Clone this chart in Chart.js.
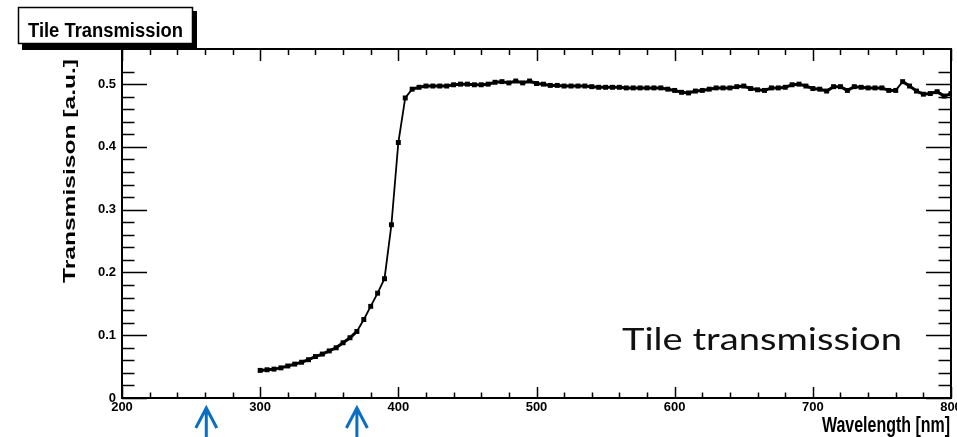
<!DOCTYPE html>
<html>
<head>
<meta charset="utf-8">
<title>Tile Transmission</title>
<script src="https://cdn.jsdelivr.net/npm/chart.js@4"></script>
<style>
  html, body { margin: 0; padding: 0; background: #fff; }
  #box { position: relative; width: 957px; height: 437px; }
</style>
</head>
<body>
<div id="box"><canvas id="chart"></canvas></div>
<script>
// ---------- DATA ----------
let wavelength = [
  300, 305, 310, 315, 320, 325, 330, 335, 340, 345,
  350, 355, 360, 365, 370, 375, 380, 385, 390, 395,
  400, 405, 410, 415, 420, 425, 430, 435, 440, 445,
  450, 455, 460, 465, 470, 475, 480, 485, 490, 495,
  500, 505, 510, 515, 520, 525, 530, 535, 540, 545,
  550, 555, 560, 565, 570, 575, 580, 585, 590, 595,
  600, 605, 610, 615, 620, 625, 630, 635, 640, 645,
  650, 655, 660, 665, 670, 675, 680, 685, 690, 695,
  700, 705, 710, 715, 720, 725, 730, 735, 740, 745,
  750, 755, 760, 765, 770, 775, 780, 785, 790, 795,
  800
];

let transmission = [
  0.044, 0.045, 0.046, 0.048, 0.051, 0.054, 0.057, 0.061, 0.066, 0.070,
  0.075, 0.080, 0.088, 0.096, 0.106, 0.125, 0.146, 0.167, 0.190, 0.276,
  0.407, 0.478, 0.492, 0.495, 0.497, 0.497, 0.497, 0.497, 0.499, 0.500,
  0.500, 0.499, 0.499, 0.500, 0.503, 0.504, 0.502, 0.505, 0.502, 0.505,
  0.501, 0.500, 0.498, 0.498, 0.497, 0.497, 0.497, 0.497, 0.496, 0.495,
  0.495, 0.495, 0.495, 0.494, 0.494, 0.494, 0.494, 0.494, 0.494, 0.492,
  0.490, 0.487, 0.486, 0.489, 0.490, 0.492, 0.494, 0.494, 0.494, 0.496,
  0.497, 0.493, 0.491, 0.490, 0.494, 0.494, 0.495, 0.499, 0.500, 0.497,
  0.493, 0.492, 0.489, 0.496, 0.496, 0.490, 0.496, 0.495, 0.494, 0.494,
  0.494, 0.490, 0.490, 0.504, 0.497, 0.489, 0.484, 0.485, 0.488, 0.481,
  0.485
];

// wavelengths marked with arrows under the axis
let arrowAt = [261, 370];

let xMin = 200, xMax = 800, xStep = 20, xMajor = 100;
let yMin = 0, yMax = 0.556, yStep = 0.02, yMajor = 0.1;

let titleText = "Tile Transmission";
let xTitle = "Wavelength [nm]";
let yTitle = "Transmisison [a.u.]";
let noteText = "Tile transmission";

// ---------- HELPERS ----------
function isMultiple(v, step) {
  let r = v / step;
  return Math.abs(r - Math.round(r)) < 1e-6;
}

// draw text squeezed/stretched into a box given by cap height and width
function boxText(ctx, text, font, x, baseline, width, capH) {
  ctx.font = font;
  let w = ctx.measureText(text).width;
  let cap = ctx.measureText("H").actualBoundingBoxAscent;
  ctx.save();
  ctx.translate(x, baseline);
  ctx.scale(width / w, capH / cap);
  ctx.textAlign = "left";
  ctx.textBaseline = "alphabetic";
  ctx.fillText(text, 0, 0);
  ctx.restore();
}

// ---------- ROOT STYLE FRAME ----------
let rootFrame = {
  id: "rootFrame",
  afterDraw(chart) {
    let ctx = chart.ctx;
    let a = chart.chartArea;
    let xs = chart.scales.x;
    let ys = chart.scales.y;

    ctx.save();
    ctx.strokeStyle = "#000";
    ctx.fillStyle = "#000";

    // frame
    ctx.lineWidth = 2;
    ctx.strokeRect(a.left, a.top, a.right - a.left, a.bottom - a.top);

    // inward ticks on all four sides
    ctx.lineWidth = 1.5;
    ctx.beginPath();
    xs.ticks.forEach(t => {
      if (!isMultiple(t.value, xStep)) return;
      let px = Math.round(xs.getPixelForValue(t.value)) + 0.5;
      let big = isMultiple(t.value, xMajor);
      ctx.moveTo(px, a.bottom);
      ctx.lineTo(px, a.bottom - (big ? 11 : 5.5));
      ctx.moveTo(px, a.top);
      ctx.lineTo(px, a.top + (big ? 12 : 6));
    });
    ys.ticks.forEach(t => {
      if (!isMultiple(t.value, yStep)) return;
      let py = Math.round(ys.getPixelForValue(t.value)) + 0.5;
      let big = isMultiple(t.value, yMajor);
      ctx.moveTo(a.left, py);
      ctx.lineTo(a.left + (big ? 25 : 12.5), py);
      ctx.moveTo(a.right, py);
      ctx.lineTo(a.right - (big ? 25 : 12.5), py);
    });
    ctx.stroke();

    // axis titles
    boxText(ctx, xTitle, "bold 16px 'Liberation Sans'", 822, 431.5, 128, 16);

    ctx.save();
    ctx.translate(75, 283);
    ctx.rotate(-Math.PI / 2);
    boxText(ctx, yTitle, "bold 16px 'Liberation Sans'", 0, 0, 224, 11.7);
    ctx.restore();

    // title pave with shadow
    ctx.fillRect(22, 11, 175, 39);
    ctx.fillStyle = "#fff";
    ctx.fillRect(18, 7, 175, 37);
    ctx.lineWidth = 1.5;
    ctx.strokeRect(18.5, 7.5, 174, 36);
    ctx.fillStyle = "#000";
    boxText(ctx, titleText, "bold 18px 'Liberation Sans'", 28, 37.3, 155, 14.6);

    // annotation
    ctx.fillStyle = "#111";
    boxText(ctx, noteText, "30px Lato", 622, 350, 280, 22);

    // blue arrows under the x axis
    ctx.strokeStyle = "#0a6fc2";
    ctx.lineWidth = 3;
    arrowAt.forEach(w => {
      let px = xs.getPixelForValue(w);
      ctx.beginPath();
      ctx.moveTo(px, 408);
      ctx.lineTo(px, 437);
      ctx.moveTo(px - 10.5, 428);
      ctx.lineTo(px, 408);
      ctx.lineTo(px + 10.5, 428);
      ctx.stroke();
    });

    ctx.restore();
  }
};

// ---------- CHART ----------
let tickFont = { family: "'Liberation Sans', Arial, sans-serif", size: 13, weight: "bold" };

let chart = new Chart(document.getElementById("chart"), {
  type: "line",
  data: {
    datasets: [{
      label: titleText,
      data: wavelength.map((w, i) => ({ x: w, y: transmission[i] })),
      borderColor: "#000",
      backgroundColor: "#000",
      borderWidth: 3,
      // thinner line where the curve climbs steeply
      segment: {
        borderWidth: c => Math.abs(c.p1.parsed.y - c.p0.parsed.y) > 0.012 ? 1.8 : 3
      },
      pointStyle: "rect",
      pointRadius: 3.5,
      pointBorderWidth: 0,
      tension: 0
    }]
  },
  options: {
    responsive: true,
    maintainAspectRatio: false,
    animation: false,
    layout: { padding: { top: 49, right: 6, left: 0, bottom: 0 } },
    plugins: {
      legend: { display: false },
      tooltip: { enabled: false },
      title: { display: false }
    },
    scales: {
      x: {
        type: "linear",
        min: xMin,
        max: xMax,
        grid: { display: false, drawTicks: false },
        border: { display: false },
        ticks: {
          stepSize: xStep,
          autoSkip: false,
          maxRotation: 0,
          padding: 2,
          color: "#000",
          font: tickFont,
          callback: v => isMultiple(v, xMajor) ? String(Math.round(v)) : ""
        },
        afterFit(s) {
          s.height = 39;
          s.paddingLeft = 0;
          s.paddingRight = 0;
        }
      },
      y: {
        min: yMin,
        max: yMax,
        grid: { display: false, drawTicks: false },
        border: { display: false },
        ticks: {
          stepSize: yStep,
          autoSkip: false,
          padding: 6,
          color: "#000",
          font: tickFont,
          callback: v => {
            if (Math.abs(v) < 1e-9) return "0";
            return isMultiple(v, yMajor) ? v.toFixed(1) : "";
          }
        },
        afterFit(s) {
          s.width = 122;
          s.paddingTop = 0;
          s.paddingBottom = 0;
        }
      }
    }
  },
  plugins: [rootFrame]
});
</script>
</body>
</html>
